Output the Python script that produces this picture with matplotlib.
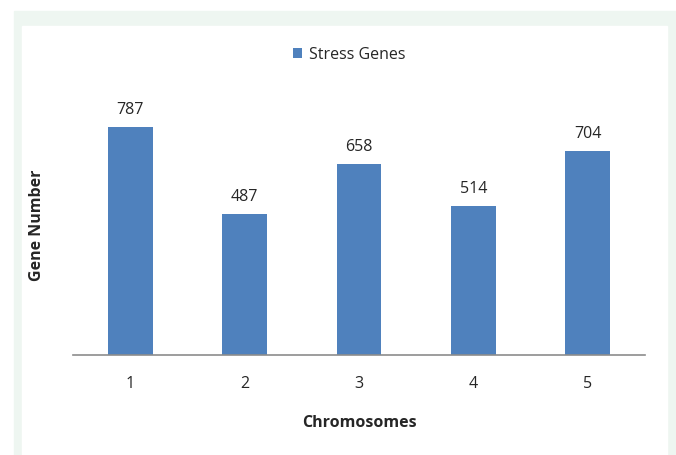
import numpy as np
import matplotlib.pyplot as plt
from matplotlib.patches import Rectangle

chromosomes = ["1", "2", "3", "4", "5"]
stress_genes = [787, 487, 658, 514, 704]

bar_col = "#4F81BD"
text_col = "#262626"

plt.rcParams["font.family"] = ["Open Sans", "DejaVu Sans"]

fig = plt.figure(figsize=(6.76, 4.55), dpi=100)

# pale green frame with a white panel inside
fig.patches.append(Rectangle((14 / 676, 0), 662 / 676, 444 / 455,
                             transform=fig.transFigure, color="#EEF6F1", zorder=-2))
fig.patches.append(Rectangle((22 / 676, 0), 645 / 676, 429 / 455,
                             transform=fig.transFigure, color="white", zorder=-1))

ax = fig.add_axes([73 / 676, 100 / 455, 572 / 676, 261 / 455])
ax.set_facecolor("none")

x = np.arange(len(chromosomes))
bars = ax.bar(x, stress_genes, width=0.39, color=bar_col, label="Stress Genes")
for xi, v in zip(x, stress_genes):
    ax.text(xi, v + 30, str(v), ha="center", va="bottom",
            fontsize=11.5, color=text_col)

ax.set_xlim(-0.5, len(chromosomes) - 0.5)
ax.set_ylim(0, 900)
ax.set_yticks([])
ax.set_xticks(x)
ax.set_xticklabels(chromosomes, fontsize=11.5, color=text_col)
ax.tick_params(axis="x", length=0, pad=15)
for s in ["top", "right", "left"]:
    ax.spines[s].set_visible(False)
ax.spines["bottom"].set_color("#8C8C8C")
ax.spines["bottom"].set_linewidth(1.2)

ax.set_xlabel("Chromosomes", fontsize=11.5, fontweight="bold", color=text_col, labelpad=17)
fig.text(37 / 676, 1 - 225 / 455, "Gene Number", rotation=90, ha="center", va="center",
         fontsize=11.5, fontweight="bold", color=text_col)

fig.legend(handles=[bars], labels=["Stress Genes"], loc="center",
           bbox_to_anchor=(349 / 676, 1 - 55 / 455), frameon=False,
           fontsize=11.5, handlelength=0.6, handleheight=0.6, handletextpad=0.4,
           labelcolor=text_col)

fig.savefig("out.png", dpi=100)
